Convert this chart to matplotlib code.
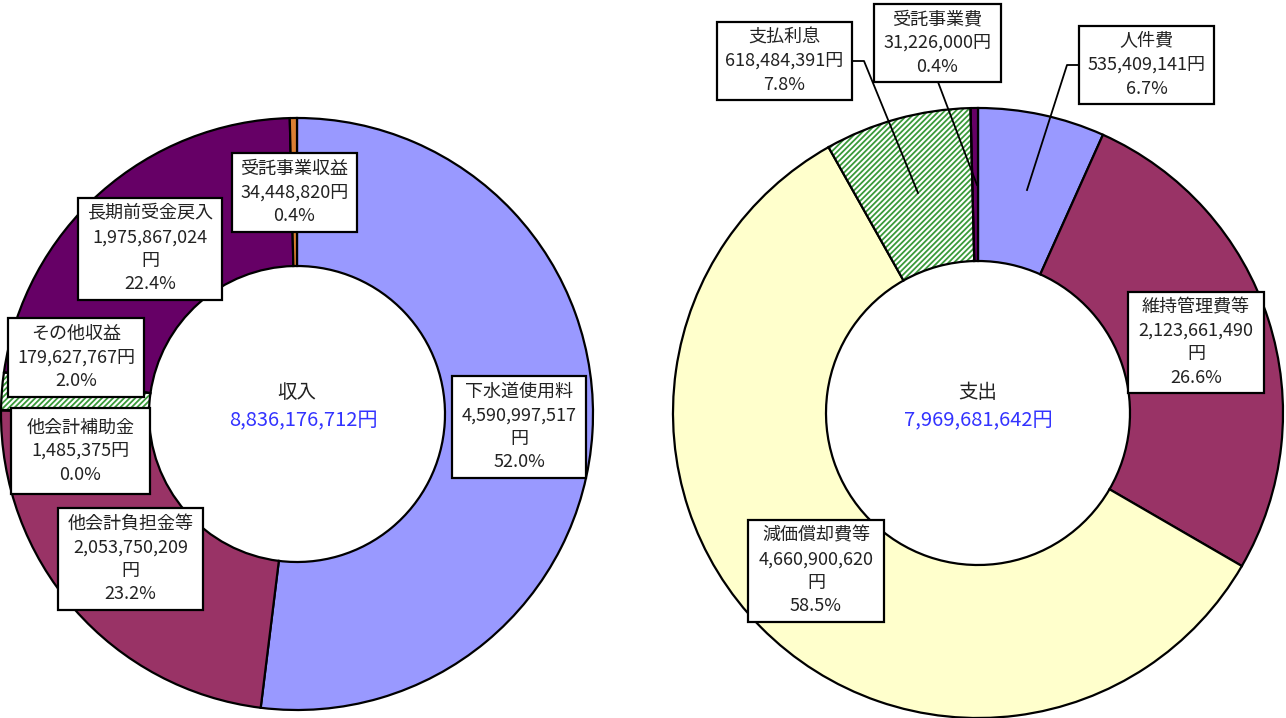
import matplotlib
matplotlib.use("Agg")
import matplotlib.pyplot as plt
from matplotlib.patches import Rectangle, Wedge

plt.rcParams['font.family'] = ['Noto Sans CJK JP', 'DejaVu Sans']
plt.rcParams['hatch.linewidth'] = 1.3

W, H = 1286, 718

# ---------------- data ----------------
income_labels = ["下水道使用料", "他会計負担金等", "他会計補助金", "その他収益", "長期前受金戻入", "受託事業収益"]
income_values = [4590997517, 2053750209, 1485375, 179627767, 1975867024, 34448820]
income_colors = ["#9999FF", "#993366", "#FFFFCC", "white", "#660066", "#DA7F33"]
income_title = "収入"

expense_labels = ["人件費", "維持管理費等", "減価償却費等", "支払利息", "受託事業費"]
expense_values = [535409141, 2123661490, 4660900620, 618484391, 31226000]
expense_colors = ["#9999FF", "#993366", "#FFFFCC", "white", "#660066"]
expense_title = "支出"

hatch_green = "#3A9A3A"

fig = plt.figure(figsize=(W / 100, H / 100), dpi=100)
ax = fig.add_axes([0, 0, 1, 1])


def Y(y):
    return H - y


def donut(values, colors, hatched, cx, cy, r, width):
    wedges, _ = ax.pie(values, colors=colors, center=(cx, Y(cy)), radius=r,
                       startangle=90, counterclock=False,
                       wedgeprops=dict(width=width, edgecolor="black", linewidth=1.6))
    for i in hatched:
        w = wedges[i]
        w.set_hatch("//////")
        w.set_edgecolor(hatch_green)
        w.set_linewidth(0)
        outline = Wedge(w.center, w.r, w.theta1, w.theta2, width=w.width,
                        fill=False, edgecolor="black", linewidth=1.6, zorder=w.get_zorder() + 0.1)
        ax.add_patch(outline)
    return wedges


def label_box(x0, y0, x1, y1, name, value, total, wrap):
    ax.add_patch(Rectangle((x0, Y(y1)), x1 - x0, y1 - y0, facecolor="white",
                           edgecolor="black", linewidth=1.6, zorder=5))
    val = f"{value:,}"
    pct = f"{value / total * 100:.1f}%"
    txt = f"{name}\n{val}\n円\n{pct}" if wrap else f"{name}\n{val}円\n{pct}"
    ax.text((x0 + x1) / 2, Y((y0 + y1) / 2), txt, ha="center", va="center",
            fontsize=13, color="#222222", linespacing=1.4, zorder=6)


def leader(points):
    xs = [p[0] for p in points]
    ys = [Y(p[1]) for p in points]
    ax.plot(xs, ys, color="black", linewidth=1.3, zorder=4)


# ---------------- income donut ----------------
inc_total = sum(income_values)
donut(income_values, income_colors, [3], 297, 414, 296, 148)
ax.text(297, Y(392), income_title, ha="center", va="center", fontsize=14, color="#222222")
ax.text(303, Y(421), f"{inc_total:,}円", ha="center", va="center", fontsize=14.5, color="#3333FF")

income_boxes = [
    (452, 376, 586, 478, True),   # 下水道使用料
    (58, 508, 203, 610, True),    # 他会計負担金等
    (11, 408, 150, 494, False),   # 他会計補助金
    (8, 318, 144, 397, False),    # その他収益
    (78, 198, 222, 300, True),    # 長期前受金戻入
    (232, 153, 357, 232, False),  # 受託事業収益
]
for (x0, y0, x1, y1, wrap), name, v in zip(income_boxes, income_labels, income_values):
    label_box(x0, y0, x1, y1, name, v, inc_total, wrap)

# ---------------- expense donut ----------------
exp_total = sum(expense_values)
donut(expense_values, expense_colors, [3], 978, 413, 305, 153)
ax.text(978, Y(392), expense_title, ha="center", va="center", fontsize=14, color="#222222")
ax.text(978, Y(421), f"{exp_total:,}円", ha="center", va="center", fontsize=14.5, color="#3333FF")

leader([(1079, 65), (1067, 65), (1027, 190)])
leader([(852, 61), (864, 61), (918, 193)])
leader([(938, 82), (977, 185)])

expense_boxes = [
    (1079, 26, 1214, 104, False),  # 人件費
    (1128, 292, 1264, 393, True),  # 維持管理費等
    (748, 520, 884, 622, True),    # 減価償却費等
    (717, 22, 852, 100, False),    # 支払利息
    (874, 4, 1001, 82, False),     # 受託事業費
]
for (x0, y0, x1, y1, wrap), name, v in zip(expense_boxes, expense_labels, expense_values):
    label_box(x0, y0, x1, y1, name, v, exp_total, wrap)

ax.set_xlim(0, W)
ax.set_ylim(0, H)
ax.set_aspect("auto")
ax.axis("off")

fig.savefig("out.png", dpi=100, facecolor="white")
